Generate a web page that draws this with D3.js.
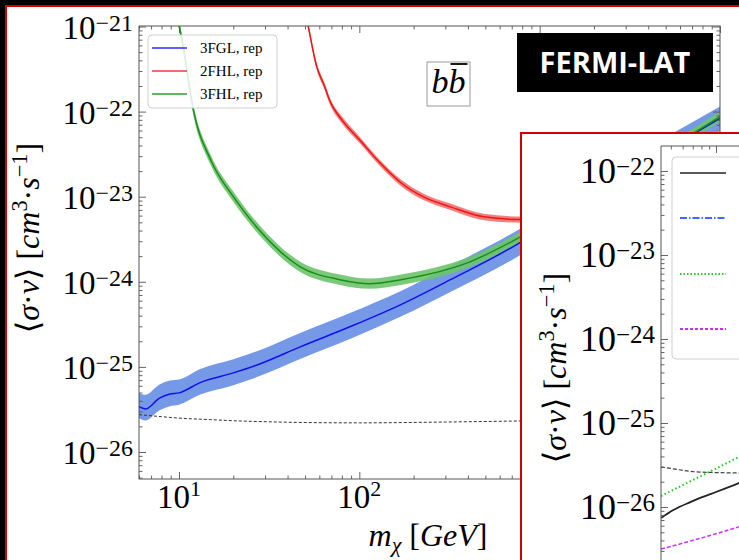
<!DOCTYPE html>
<html>
<head>
<meta charset="utf-8">
<script src="https://cdn.jsdelivr.net/npm/d3@7/dist/d3.min.js"></script>
<style>
body { margin: 0; background: #000; }
svg { display: block; }
text { font-family: "Liberation Serif", "DejaVu Serif", serif; fill: #000; }
</style>
</head>
<body>
<script>
// ---- main panel: b bbar limits vs dark matter mass ----
var fglMass = [6, 6.5, 7.8, 8.9, 10, 13, 20, 28, 47, 90, 170, 320, 790, 1900, 4400, 10000];
var fglSigv = [3.4e-26, 3.2e-26, 4.3e-26, 4.8e-26, 4.95e-26, 6.5e-26, 8.5e-26, 1.08e-25, 1.72e-25, 3.0e-25, 5.4e-25, 1.06e-24, 2.95e-24, 1.08e-23, 3.0e-23, 8.3e-23];
var fglLow  = [2.5e-26, 2.35e-26, 3.1e-26, 3.45e-26, 3.6e-26, 4.7e-26, 6.1e-26, 7.8e-26, 1.24e-25, 2.15e-25, 3.9e-25, 7.6e-25, 2.1e-24, 7.8e-24, 2.2e-23, 6.1e-23];
var fglHigh = [4.9e-26, 4.7e-26, 6.2e-26, 6.9e-26, 7.1e-26, 9.4e-26, 1.23e-25, 1.57e-25, 2.5e-25, 4.35e-25, 7.8e-25, 1.54e-24, 4.3e-24, 1.55e-23, 4.3e-23, 1.15e-22];

var fhl2Mass = [50, 52, 58, 64, 69, 80, 100, 130, 170, 230, 320, 490, 790, 1500, 3000, 10000];
var fhl2Sigv = [1.6e-21, 1.03e-21, 3.4e-22, 2.0e-22, 1.3e-22, 8.0e-23, 4.7e-23, 2.5e-23, 1.46e-23, 9.8e-24, 7.6e-24, 5.8e-24, 5.4e-24, 6.0e-24, 8.0e-24, 1.5e-23];
var fhl2Low  = [1.45e-21, 0.94e-21, 3.1e-22, 1.83e-22, 1.19e-22, 7.3e-23, 4.3e-23, 2.3e-23, 1.34e-23, 9.0e-24, 7.0e-24, 5.3e-24, 4.95e-24, 5.5e-24, 7.3e-24, 1.37e-23];
var fhl2High = [1.75e-21, 1.13e-21, 3.7e-22, 2.2e-22, 1.42e-22, 8.8e-23, 5.1e-23, 2.7e-23, 1.59e-23, 1.07e-23, 8.3e-24, 6.3e-24, 5.85e-24, 6.5e-24, 8.7e-24, 1.63e-23];

var fhl3Mass = [9.8, 10.5, 12, 15, 20, 28, 47, 78, 114, 170, 400, 790, 2000, 5000, 10000];
var fhl3Sigv = [1.3e-21, 6.1e-22, 1.06e-22, 2.7e-23, 1.0e-23, 4.0e-24, 1.5e-24, 1.06e-24, 9.5e-25, 1.06e-24, 1.68e-24, 3.4e-24, 1.05e-23, 3.5e-23, 8.7e-23];
var fhl3Low  = [1.13e-21, 5.3e-22, 0.92e-22, 2.35e-23, 0.87e-23, 3.5e-24, 1.3e-24, 0.92e-24, 8.3e-25, 0.92e-24, 1.46e-24, 2.95e-24, 0.91e-23, 3.05e-23, 7.6e-23];
var fhl3High = [1.5e-21, 7.0e-22, 1.22e-22, 3.1e-23, 1.15e-23, 4.6e-24, 1.72e-24, 1.22e-24, 1.09e-24, 1.22e-24, 1.93e-24, 3.9e-24, 1.2e-23, 4.0e-23, 1.0e-22];

var relicMass = [6, 8, 10, 15, 20, 30, 50, 100, 300, 1000, 10000];
var relicSigv = [2.75e-26, 2.6e-26, 2.5e-26, 2.4e-26, 2.33e-26, 2.27e-26, 2.22e-26, 2.2e-26, 2.25e-26, 2.33e-26, 2.4e-26];

var legendNames = ["3FGL, rep", "2FHL, rep", "3FHL, rep"];
var legendColors = ["#2b2bff", "#f23a3a", "#2e9a2e"];

// ---- inset panel ----
var insetMass = [4.3, 5.2, 6.8, 8, 10, 14.2, 20];
var insetRelic = [3.0e-26, 2.85e-26, 2.65e-26, 2.6e-26, 2.57e-26, 2.54e-26, 2.52e-26];
var insetSolid = [7.4e-27, 9.2e-27, 1.15e-26, 1.3e-26, 1.51e-26, 1.93e-26, 2.5e-26];
var insetDotted = [1.35e-26, 1.6e-26, 2.04e-26, 2.35e-26, 2.87e-26, 3.94e-26, 5.4e-26];
var insetDashed = [3.16e-27, 3.45e-27, 3.95e-27, 4.28e-27, 4.8e-27, 5.8e-27, 7.0e-27];
var insetLegendColors = ["#222", "#3d6bff", "#22cc22", "#c035f5"];
var insetLegendDash = ["none", "7,2,1.5,2", "1.5,2", "3,2"];

var width = 739, height = 560;

var svg = d3.select("body")
            .append("svg")
            .attr("width", width)
            .attr("height", height);

svg.append("rect").attr("width", width).attr("height", height).attr("fill", "#000");
svg.append("rect")
   .attr("x", 6).attr("y", 6)
   .attr("width", width).attr("height", height)
   .attr("fill", "#fff")
   .attr("stroke", "#d40000")
   .attr("stroke-width", 2);

// helpers
function logTicks(scale) {
  var all = scale.ticks();
  var major = all.filter(function(d) { return Math.abs(Math.log10(d) - Math.round(Math.log10(d))) < 1e-6; });
  var minor = all.filter(function(d) { return major.indexOf(d) < 0; });
  return {major: major, minor: minor};
}

function drawTicks(g, axisFn, scale, x, y, majorLen, minorLen) {
  var t = logTicks(scale);
  [[t.major, majorLen], [t.minor, minorLen]].forEach(function(p) {
    var a = g.append("g")
             .attr("transform", "translate(" + x + "," + y + ")")
             .call(axisFn(scale).tickValues(p[0]).tickSize(-p[1]).tickFormat(""));
    a.select(".domain").remove();
    a.selectAll("line").attr("stroke", "#555").attr("stroke-width", 0.9);
  });
}

function powLabel(sel, exp, baseSize, supSize, raise) {
  sel.append("tspan").style("font-size", baseSize + "px").text("10");
  sel.append("tspan").style("font-size", supSize + "px").attr("dy", -raise)
     .text(exp < 0 ? "\u2212" + (-exp) : String(exp));
}

function sigmaLabel(g, x, y, size) {
  var t = g.append("text")
           .attr("transform", "translate(" + x + "," + y + ") rotate(-90)")
           .attr("text-anchor", "middle")
           .style("font-size", size + "px");
  var sup = size * 0.7, up = size * 0.38;
  t.append("tspan").text("\u27E8");
  t.append("tspan").style("font-style", "italic").text("\u03C3");
  t.append("tspan").text("\u00B7");
  t.append("tspan").style("font-style", "italic").text("v");
  t.append("tspan").text("\u27E9 [");
  t.append("tspan").style("font-style", "italic").text("cm");
  t.append("tspan").attr("dy", -up).style("font-size", sup + "px").text("3");
  t.append("tspan").attr("dy", up).text("\u00B7");
  t.append("tspan").style("font-style", "italic").text("s");
  t.append("tspan").attr("dy", -up).style("font-size", sup + "px").text("\u22121");
  t.append("tspan").attr("dy", up).text("]");
  return t;
}

// ================= main panel =================
var plot = {left: 139, right: 720, top: 26, bottom: 479};
var insetLeft = 521;

var xScale = d3.scaleLog().domain([6, 1e4]).range([plot.left, plot.right]);
var yScale = d3.scaleLog().domain([1e-26, 1e-21]).range([452, 26.5]);
yScale.domain([yScale.invert(plot.bottom), yScale.invert(plot.top)]).range([plot.bottom, plot.top]);

svg.append("clipPath").attr("id", "mainClip")
   .append("rect")
   .attr("x", plot.left).attr("y", plot.top)
   .attr("width", plot.right - plot.left).attr("height", plot.bottom - plot.top);

var main = svg.append("g").attr("clip-path", "url(#mainClip)");

var line_plot = d3.line()
              .x(function(d) { return xScale(d[0]); })
              .y(function(d) { return yScale(d[1]); })
              .curve(d3.curveMonotoneX);
var band_plot = d3.area()
              .x(function(d) { return xScale(d[0]); })
              .y0(function(d) { return yScale(d[2]); })
              .y1(function(d) { return yScale(d[3]); })
              .curve(d3.curveMonotoneX);

// bands
main.append("path").attr("d", band_plot(d3.zip(fglMass, fglSigv, fglLow, fglHigh)))
    .attr("fill", "#6f93e6").attr("opacity", 0.95);
main.append("path").attr("d", band_plot(d3.zip(fhl2Mass, fhl2Sigv, fhl2Low, fhl2High)))
    .attr("fill", "#f27070").attr("opacity", 0.9);
main.append("path").attr("d", band_plot(d3.zip(fhl3Mass, fhl3Sigv, fhl3Low, fhl3High)))
    .attr("fill", "#6cc46c").attr("opacity", 0.9);

// lines
main.append("path").attr("d", line_plot(d3.zip(relicMass, relicSigv)))
    .attr("fill", "none").attr("stroke", "#333").attr("stroke-width", 1)
    .style("stroke-dasharray", "3,2");
main.append("path").attr("d", line_plot(d3.zip(fglMass, fglSigv)))
    .attr("fill", "none").attr("stroke", "#1010f0").attr("stroke-width", 1.5);
main.append("path").attr("d", line_plot(d3.zip(fhl2Mass, fhl2Sigv)))
    .attr("fill", "none").attr("stroke", "#ee1515").attr("stroke-width", 1.5);
main.append("path").attr("d", line_plot(d3.zip(fhl3Mass, fhl3Sigv)))
    .attr("fill", "none").attr("stroke", "#1c8c1c").attr("stroke-width", 1.5);

// ticks on all four sides, pointing in
var axes = svg.append("g");
drawTicks(axes, d3.axisLeft, yScale, plot.left, 0, 7, 3.5);
drawTicks(axes, d3.axisRight, yScale, plot.right, 0, 7, 3.5);
drawTicks(axes, d3.axisBottom, xScale, 0, plot.bottom, 7, 3.5);
drawTicks(axes, d3.axisTop, xScale, 0, plot.top, 7, 3.5);

axes.append("rect")
    .attr("x", plot.left).attr("y", plot.top)
    .attr("width", plot.right - plot.left).attr("height", plot.bottom - plot.top)
    .attr("fill", "none").attr("stroke", "#555").attr("stroke-width", 1);

// tick labels (x labels under the inset are not shown)
logTicks(yScale).major.forEach(function(d) {
  var t = axes.append("text")
              .attr("x", plot.left - 6).attr("y", yScale(d) + 12)
              .attr("text-anchor", "end");
  powLabel(t, Math.round(Math.log10(d)), 33, 24, 8);
});
logTicks(xScale).major.filter(function(d) { return xScale(d) < insetLeft - 30; }).forEach(function(d) {
  var t = axes.append("text")
              .attr("x", xScale(d)).attr("y", 508)
              .attr("text-anchor", "middle");
  powLabel(t, Math.round(Math.log10(d)), 33, 22, 12);
});

// axis titles
sigmaLabel(svg, 39, 238, 32);

var xt = svg.append("text").attr("x", 428).attr("y", 546).attr("text-anchor", "middle").style("font-size", "32px");
xt.append("tspan").style("font-style", "italic").text("m");
xt.append("tspan").style("font-style", "italic").style("font-size", "22px").attr("dy", 6).text("\u03C7");
xt.append("tspan").attr("dy", -6).text(" [");
xt.append("tspan").style("font-style", "italic").text("GeV");
xt.append("tspan").text("]");

// legend
var legend = svg.append("g");
legend.append("rect")
      .attr("x", 148).attr("y", 35).attr("width", 129).attr("height", 73).attr("rx", 4)
      .attr("fill", "#fff").attr("fill-opacity", 0.85)
      .attr("stroke", "#cfcfcf");
legendNames.forEach(function(name, i) {
  var ly = 48 + i * 23;
  legend.append("line").attr("x1", 152).attr("x2", 187).attr("y1", ly).attr("y2", ly)
        .attr("stroke", legendColors[i]).attr("stroke-width", 1.5);
  legend.append("text").attr("x", 200).attr("y", ly + 5).style("font-size", "15px").text(name);
});

// b bbar box
svg.append("rect").attr("x", 427).attr("y", 62).attr("width", 43).attr("height", 44)
   .attr("fill", "#fff").attr("stroke", "#999").attr("stroke-width", 1);
var bb = svg.append("text").attr("x", 448.5).attr("y", 93).attr("text-anchor", "middle")
            .style("font-size", "34px").style("font-style", "italic").text("bb");
var bbNode = bb.node();
var p1 = bbNode.getStartPositionOfChar(1), w1 = bbNode.getSubStringLength(1, 1);
svg.append("line").attr("x1", p1.x + 2).attr("x2", p1.x + w1 + 2).attr("y1", 64).attr("y2", 64)
   .attr("stroke", "#000").attr("stroke-width", 1.8);

// FERMI-LAT tag
svg.append("rect").attr("x", 517).attr("y", 33).attr("width", 196).attr("height", 59).attr("fill", "#000");
svg.append("text").attr("x", 615).attr("y", 73).attr("text-anchor", "middle")
   .style("font-family", "'Open Sans', sans-serif").style("font-weight", 700)
   .style("font-size", "29px").style("fill", "#fff").text("FERMI-LAT");

// ================= inset panel =================
var inset = svg.append("g");
inset.append("rect").attr("x", insetLeft).attr("y", 133).attr("width", 300).attr("height", 500)
     .attr("fill", "#fff").attr("stroke", "#cc0000").attr("stroke-width", 2);

var ip = {left: 661, top: 146, right: 760, bottom: 570};
var insetX = d3.scaleLog().domain([4.3, 43]).range([ip.left, ip.left + 150]);
var insetY = d3.scaleLog().domain([1e-26, 1e-22]).range([507, 171]);
insetY.domain([insetY.invert(ip.bottom), insetY.invert(ip.top)]).range([ip.bottom, ip.top]);

svg.append("clipPath").attr("id", "insetClip")
   .append("rect").attr("x", ip.left).attr("y", ip.top)
   .attr("width", ip.right - ip.left).attr("height", ip.bottom - ip.top);

var insetLine = d3.line()
              .x(function(d) { return insetX(d[0]); })
              .y(function(d) { return insetY(d[1]); })
              .curve(d3.curveMonotoneX);

var ig = inset.append("g").attr("clip-path", "url(#insetClip)");
ig.append("path").attr("d", insetLine(d3.zip(insetMass, insetRelic)))
  .attr("fill", "none").attr("stroke", "#444").attr("stroke-width", 1.2).style("stroke-dasharray", "4,2");
ig.append("path").attr("d", insetLine(d3.zip(insetMass, insetDotted)))
  .attr("fill", "none").attr("stroke", "#22cc22").attr("stroke-width", 2).style("stroke-dasharray", "1.5,2.5");
ig.append("path").attr("d", insetLine(d3.zip(insetMass, insetSolid)))
  .attr("fill", "none").attr("stroke", "#222").attr("stroke-width", 1.8);
ig.append("path").attr("d", insetLine(d3.zip(insetMass, insetDashed)))
  .attr("fill", "none").attr("stroke", "#cc33ff").attr("stroke-width", 1.5).style("stroke-dasharray", "4,2");

drawTicks(inset, d3.axisLeft, insetY, ip.left, 0, 7, 3.5);
drawTicks(inset, d3.axisTop, insetX, 0, ip.top, 7, 3.5);
inset.append("path")
     .attr("d", d3.line()([[ip.left, ip.bottom], [ip.left, ip.top], [ip.right, ip.top]]))
     .attr("fill", "none").attr("stroke", "#555").attr("stroke-width", 1);

logTicks(insetY).major.forEach(function(d) {
  var t = inset.append("text")
               .attr("x", 655).attr("y", insetY(d) + 12)
               .attr("text-anchor", "end");
  powLabel(t, Math.round(Math.log10(d)), 36, 25, 8);
});

sigmaLabel(inset, 566, 368, 32);

// inset legend (labels fall outside the frame)
inset.append("rect").attr("x", 672).attr("y", 157).attr("width", 120).attr("height", 202).attr("rx", 4)
     .attr("fill", "#fff").attr("stroke", "#cfcfcf");
[173, 218, 274, 329].forEach(function(ly, i) {
  inset.append("line").attr("x1", 680).attr("x2", 726).attr("y1", ly).attr("y2", ly)
       .attr("stroke", insetLegendColors[i]).attr("stroke-width", i === 0 ? 1.5 : 1.8)
       .style("stroke-dasharray", insetLegendDash[i]);
});
</script>
</body>
</html>
